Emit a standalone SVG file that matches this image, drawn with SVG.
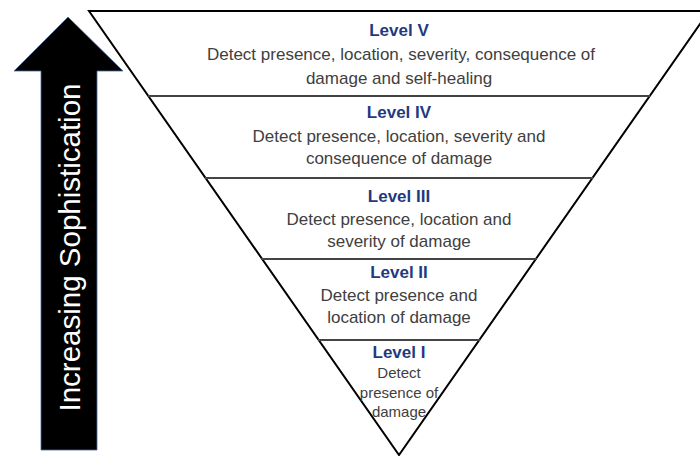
<svg xmlns="http://www.w3.org/2000/svg" width="700" height="456" viewBox="0 0 700 456">
<style>
.lvl{font-family:"Liberation Sans",Arial,sans-serif;font-size:17px;font-weight:bold;fill:#1F3A7E;text-anchor:middle}
.body{font-family:"Liberation Sans",Arial,sans-serif;font-size:17px;fill:#404040;text-anchor:middle}
.sm{font-family:"Liberation Sans",Arial,sans-serif;font-size:15px;fill:#404040;text-anchor:middle}
.div{stroke:#444;stroke-width:2;fill:none}
</style>
<rect width="700" height="456" fill="#fff"/>
<g id="arrow">
<polygon points="68,17 123,71 97,71 97,450 41,450 41,71 14,71" fill="#000" stroke="#4a6aa0" stroke-width="0.8"/>
<text transform="translate(80,247.5) rotate(-90)" x="0" y="0" font-family="&quot;Liberation Sans&quot;,Arial,sans-serif" font-size="29.5px" fill="#fff" text-anchor="middle">Increasing Sophistication</text>
</g>
<g id="triangle">
<polygon points="89,11 709,11 399,455" fill="#fff" stroke="#000" stroke-width="2"/>
</g>
<g id="connectors">
<line class="div" x1="148" y1="96" x2="650" y2="96"/>
<line class="div" x1="205" y1="178" x2="593" y2="178"/>
<line class="div" x1="261" y1="259" x2="537" y2="259"/>
<line class="div" x1="318" y1="340" x2="480" y2="340"/>
</g>
<g id="level5">
<text class="lvl" x="399" y="36">Level V</text>
<text class="body" x="401" y="60">Detect presence, location, severity, consequence of</text>
<text class="body" x="399" y="84">damage and self-healing</text>
</g>
<g id="level4">
<text class="lvl" x="399" y="118">Level IV</text>
<text class="body" x="399" y="142">Detect presence, location, severity and</text>
<text class="body" x="399" y="164">consequence of damage</text>
</g>
<g id="level3">
<text class="lvl" x="399" y="202">Level III</text>
<text class="body" x="399" y="225">Detect presence, location and</text>
<text class="body" x="399" y="247">severity of damage</text>
</g>
<g id="level2">
<text class="lvl" x="399" y="278">Level II</text>
<text class="body" x="399" y="301">Detect presence and</text>
<text class="body" x="399" y="323">location of damage</text>
</g>
<g id="level1">
<text class="lvl" x="399" y="358">Level I</text>
<text class="sm" x="399" y="378">Detect</text>
<text class="sm" x="399" y="398">presence of</text>
<text class="sm" x="399" y="417">damage</text>
</g>
</svg>
